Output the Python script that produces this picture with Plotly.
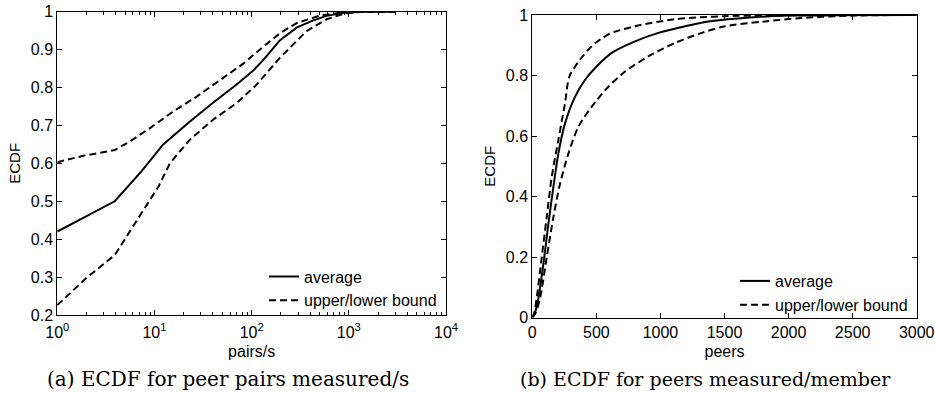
import plotly.graph_objects as go

# ---- data: left panel (pairs/s, log x) ----
a_avg_x = [1, 3.9, 7.3, 12.3, 23, 40, 70, 104, 132, 196, 290, 430, 590, 875, 1500, 3000]
a_avg_y = [0.42, 0.50, 0.578, 0.650, 0.710, 0.760, 0.808, 0.845, 0.873, 0.925, 0.958, 0.977, 0.989, 0.997, 1.0, 1.0]
a_up_x = [1, 1.85, 3.9, 5.6, 9, 15.6, 27.2, 47, 82, 132, 200, 290, 505, 1000, 3000]
a_up_y = [0.603, 0.62, 0.635, 0.658, 0.693, 0.737, 0.776, 0.818, 0.863, 0.908, 0.945, 0.970, 0.990, 1.0, 1.0]
a_lo_x = [1, 2.0, 3.9, 6.6, 11, 14.4, 23, 40, 70, 110, 196, 368, 590, 900, 1300, 3000]
a_lo_y = [0.226, 0.298, 0.358, 0.451, 0.539, 0.600, 0.662, 0.715, 0.759, 0.805, 0.879, 0.949, 0.980, 0.995, 1.0, 1.0]

# ---- data: right panel (peers) ----
b_avg_x = [0, 20, 47, 86, 125, 164, 203, 255, 334, 412, 490, 620, 802, 984, 1193, 1402, 1700, 2000, 3000]
b_avg_y = [0, 0.015, 0.063, 0.175, 0.308, 0.43, 0.541, 0.641, 0.73, 0.786, 0.825, 0.875, 0.913, 0.941, 0.963, 0.98, 0.992, 0.998, 1.0]
b_up_x = [0, 15, 34, 73, 112, 151, 203, 255, 290, 372, 464, 594, 802, 1115, 1500, 3000]
b_up_y = [0, 0.015, 0.063, 0.197, 0.33, 0.463, 0.586, 0.708, 0.797, 0.852, 0.897, 0.936, 0.963, 0.986, 0.996, 1.0]
b_lo_x = [0, 25, 60, 112, 164, 216, 281, 359, 464, 594, 724, 906, 1115, 1323, 1505, 1800, 2100, 2500, 3000]
b_lo_y = [0, 0.015, 0.063, 0.197, 0.33, 0.441, 0.541, 0.63, 0.697, 0.763, 0.813, 0.863, 0.908, 0.941, 0.963, 0.978, 0.99, 0.998, 1.0]

log_tickvals = [1, 10, 100, 1000, 10000]
log_ticktext = ["10<sup>0</sup>", "10<sup>1</sup>", "10<sup>2</sup>", "10<sup>3</sup>", "10<sup>4</sup>"]
log_minor = [k * 10 ** p for p in range(4) for k in range(2, 10)]

captions = ["(a) ECDF for peer pairs measured/s", "(b) ECDF for peers measured/member"]

W, H = 935, 393
FONT = "Liberation Sans"
DASH = "7px,4px"

fig = go.Figure()

def add(x, y, dash, name, xa, ya, legend, show, shape):
    fig.add_trace(go.Scatter(
        x=x, y=y, mode="lines", name=name,
        line=dict(color="black", width=2, dash=dash, shape=shape,
                  smoothing=0.8 if shape == "spline" else None),
        xaxis=xa, yaxis=ya, legend=legend, showlegend=show))

add(a_avg_x, a_avg_y, "solid", "average", "x", "y", "legend", True, "linear")
add(a_up_x, a_up_y, DASH, "upper/lower bound", "x", "y", "legend", True, "linear")
add(a_lo_x, a_lo_y, DASH, "upper/lower bound", "x", "y", "legend", False, "linear")
add(b_avg_x, b_avg_y, "solid", "average", "x2", "y2", "legend2", True, "spline")
add(b_up_x, b_up_y, DASH, "upper/lower bound", "x2", "y2", "legend2", True, "spline")
add(b_lo_x, b_lo_y, DASH, "upper/lower bound", "x2", "y2", "legend2", False, "spline")

axis_common = dict(
    showline=True, linecolor="black", linewidth=1, mirror="allticks",
    ticks="inside", ticklen=5, tickcolor="black", tickwidth=1,
    showgrid=False, zeroline=False, automargin=False,
    tickfont=dict(family=FONT, size=16, color="black"),
)

def px_x(p):
    return p / W

def px_y(p):
    return (H - p) / H

fig.update_layout(
    width=W, height=H, margin=dict(l=0, r=0, t=0, b=0),
    paper_bgcolor="white", plot_bgcolor="white",
    font=dict(family=FONT, size=16, color="black"),
    xaxis=dict(
        type="log", range=[0, 4], domain=[px_x(57.3), px_x(446)],
        tickmode="array", tickvals=log_tickvals, ticktext=log_ticktext,
        ticklabelstandoff=3,
        minor=dict(tickmode="array", tickvals=log_minor, ticks="inside", ticklen=3,
                   tickcolor="black", showgrid=False),
        title=dict(text="pairs/s", standoff=5, font=dict(family=FONT, size=16)),
        anchor="y", **axis_common),
    yaxis=dict(
        range=[0.2, 1], dtick=0.1, domain=[px_y(315), px_y(11.7)],
        title=dict(text="ECDF", standoff=6, font=dict(family=FONT, size=15)),
        anchor="x", **axis_common),
    xaxis2=dict(
        range=[0, 3000], dtick=500, domain=[px_x(532.3), px_x(916.7)],
        title=dict(text="peers", standoff=6, font=dict(family=FONT, size=16)),
        anchor="y2", **axis_common),
    yaxis2=dict(
        range=[0, 1], dtick=0.2, domain=[px_y(317.5), px_y(15)],
        title=dict(text="ECDF", standoff=6, font=dict(family=FONT, size=15)),
        anchor="x2", **axis_common),
    legend=dict(x=px_x(442), y=px_y(288.5), xanchor="right", yanchor="middle",
                bgcolor="rgba(0,0,0,0)", borderwidth=0,
                font=dict(family=FONT, size=16, color="black"), tracegroupgap=0),
    legend2=dict(x=px_x(913), y=px_y(293), xanchor="right", yanchor="middle",
                 bgcolor="rgba(0,0,0,0)", borderwidth=0,
                 font=dict(family=FONT, size=16, color="black"), tracegroupgap=0),
)

for cx, text, sz in zip([228, 705], captions, [20, 19]):
    fig.add_annotation(text=text, x=px_x(cx), y=px_y(379), xref="paper", yref="paper",
                       xanchor="center", yanchor="middle", showarrow=False,
                       font=dict(family="DejaVu Serif", size=sz, color="black"))

fig.write_html("out.html")
